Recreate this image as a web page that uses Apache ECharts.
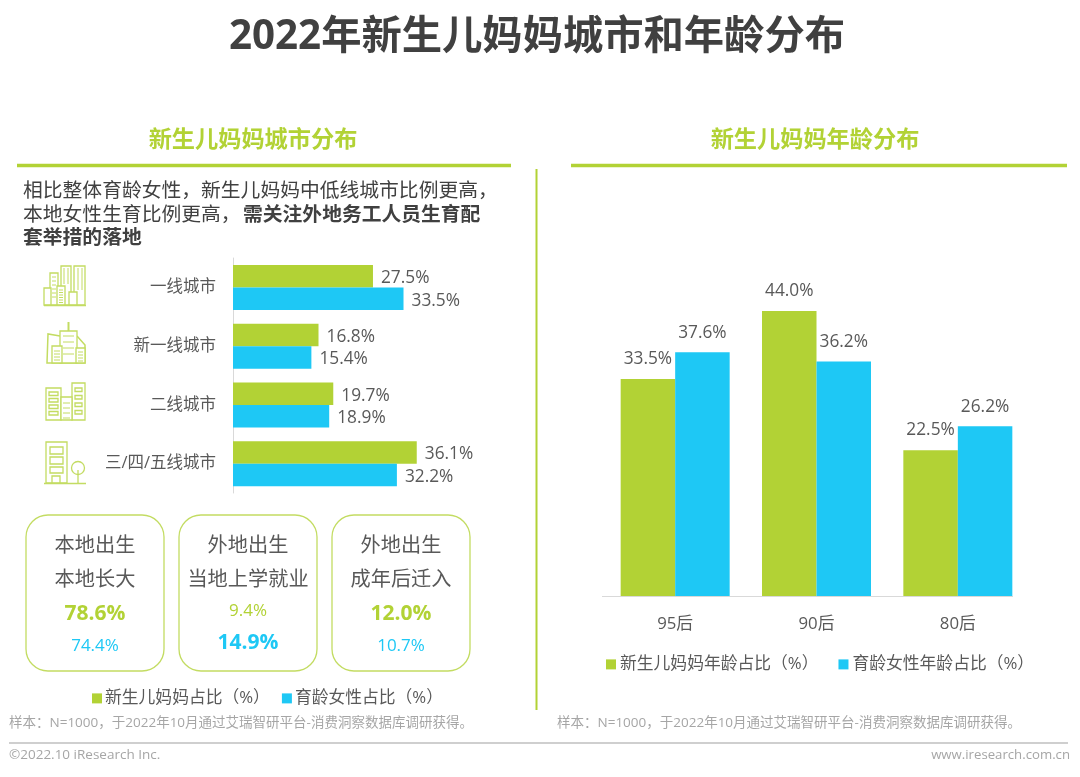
<!DOCTYPE html>
<html>
<head>
<meta charset="utf-8">
<style>html,body{margin:0;padding:0;background:#fff}#main{width:1080px;height:777px}</style>
<script src="https://cdn.jsdelivr.net/npm/echarts@6/dist/echarts.min.js"></script>
</head>
<body>
<div id="main"></div>
<script>
// 城市分布
var cityCats = ['一线城市', '新一线城市', '二线城市', '三/四/五线城市'];
var cityMom = [27.5, 16.8, 19.7, 36.1];
var cityWomen = [33.5, 15.4, 18.9, 32.2];
// 年龄分布
var ageCats = ['95后', '90后', '80后'];
var ageMom = [33.5, 44.0, 22.5];
var ageWomen = [37.6, 36.2, 26.2];
// 出生地卡片
var boxLine1 = ['本地出生', '外地出生', '外地出生'];
var boxLine2 = ['本地长大', '当地上学就业', '成年后迁入'];
var boxMom = [78.6, 9.4, 12.0];
var boxWomen = [74.4, 14.9, 10.7];

var GREEN = '#B2D235', BLUE = '#1EC8F5', ICON = '#C3DC62';
var FONT = '"Open Sans","Noto Sans CJK SC",sans-serif';
var SAMPLE = '样本：N=1000，于2022年10月通过艾瑞智研平台-消费洞察数据库调研获得。';

var g = [];
function text(x, y, s, size, color, align, weight) {
    g.push({
        type: 'text', x: x, y: y,
        style: {
            text: s, fontSize: size, fill: color, fontFamily: FONT,
            fontWeight: weight || 'normal', textAlign: align || 'left', textVerticalAlign: 'middle'
        }
    });
}
function line(x1, y1, x2, y2, color, w) {
    g.push({ type: 'line', shape: { x1: x1, y1: y1, x2: x2, y2: y2 }, style: { stroke: color, lineWidth: w } });
}
function box(x, y, w, h) {
    g.push({ type: 'rect', shape: { x: x, y: y, width: w, height: h }, style: { fill: '#fff', stroke: ICON, lineWidth: 1.3 } });
}

text(537, 38, '2022年新生儿妈妈城市和年龄分布', 40.3, '#404040', 'center', 'bold');
text(253, 140, '新生儿妈妈城市分布', 23.2, GREEN, 'center', 'bold');
text(815, 140, '新生儿妈妈年龄分布', 23.2, GREEN, 'center', 'bold');
line(17, 165.5, 511, 165.5, GREEN, 3.5);
line(571, 165.5, 1067, 165.5, GREEN, 3.5);
line(536.5, 169, 536.5, 710, GREEN, 2);

text(23, 191, '相比整体育龄女性，新生儿妈妈中低线城市比例更高，', 19.8, '#404040');
text(23, 215, '本地女性生育比例更高，', 19.8, '#404040');
text(243, 215, '需关注外地务工人员生育配', 19.8, '#404040', 'left', 'bold');
text(23, 238, '套举措的落地', 19.8, '#404040', 'left', 'bold');

// 图标
box(61, 266, 10, 39); box(74, 266, 11, 39); box(50, 273, 8, 32);
box(44, 288, 7, 17); box(57, 286, 8, 19); box(69, 292, 8, 13);
for (var j = 0; j < 6; j++) {
    line(52, 277 + j * 4, 56, 277 + j * 4, ICON, 1);
    line(59, 290 + j * 2.5, 63, 290 + j * 2.5, ICON, 1);
}
line(64, 268, 64, 284, ICON, 1); line(68, 268, 68, 284, ICON, 1);
line(78, 268, 78, 290, ICON, 1); line(82, 268, 82, 290, ICON, 1);
line(44, 305.5, 86, 305.5, ICON, 1.5);

g.push({
    type: 'polyline',
    shape: { points: [[60, 336], [48, 334], [47, 363], [85, 363], [85, 345], [77, 336]] },
    style: { fill: 'none', stroke: ICON, lineWidth: 1.5 }
});
box(60, 331, 17, 32); box(52, 346, 10, 17); box(76, 348, 9, 15);
line(68.5, 322, 68.5, 331, ICON, 2);
for (var k = 0; k < 4; k++) {
    line(63, 336 + k * 6, 74, 336 + k * 6, ICON, 1);
    line(54, 351 + k * 3, 60, 351 + k * 3, ICON, 1);
    line(78, 352 + k * 3, 83, 352 + k * 3, ICON, 1);
}

box(46, 388, 15, 32); box(72, 383, 13, 37); box(61, 397, 11, 23);
for (var i = 0; i < 4; i++) {
    box(49, 392 + i * 6.5, 9, 3.5);
    box(75, 388 + i * 7.5, 7, 3.5);
    line(63, 403 + i * 5, 70, 403 + i * 5, ICON, 1);
}

box(46, 442, 21, 41); box(50, 447, 13, 7); box(50, 457, 13, 7); box(50, 467, 13, 6);
box(52, 476, 8, 7);
g.push({ type: 'circle', shape: { cx: 78, cy: 468, r: 6.5 }, style: { fill: 'none', stroke: ICON, lineWidth: 1.3 } });
line(78, 470, 78, 483, ICON, 1.3);
line(44, 483.5, 86, 483.5, ICON, 1.5);

// 卡片
var boxX = [26, 179, 332];
for (var b = 0; b < 3; b++) {
    g.push({
        type: 'rect', shape: { x: boxX[b], y: 515, width: 138, height: 156, r: 22 },
        style: { fill: 'none', stroke: '#C3DC62', lineWidth: 1.3 }
    });
    var cx = boxX[b] + 69;
    var momWins = boxMom[b] > boxWomen[b];
    text(cx, 546, boxLine1[b], 20.2, '#595959', 'center');
    text(cx, 580, boxLine2[b], 20.2, '#595959', 'center');
    text(cx, momWins ? 614 : 611, boxMom[b].toFixed(1) + '%', momWins ? 21 : 17, GREEN, 'center', momWins ? 'bold' : 'normal');
    text(cx, momWins ? 646 : 643, boxWomen[b].toFixed(1) + '%', momWins ? 17 : 21, BLUE, 'center', momWins ? 'normal' : 'bold');
}

line(602, 596.5, 1013, 596.5, '#D9D9D9', 1);
text(9, 723, SAMPLE, 13.5, '#A6A6A6');
text(557, 723, SAMPLE, 13.5, '#A6A6A6');
line(9, 743, 1068, 743, '#BFBFBF', 1.5);
text(9, 755, '©2022.10 iResearch Inc.', 13.5, '#A6A6A6');
text(1070, 755, 'www.iresearch.com.cn', 13.2, '#A6A6A6', 'right');

function barLabel(size) {
    return {
        show: true, fontSize: size, color: '#595959', fontFamily: FONT,
        formatter: function (p) { return p.value.toFixed(1) + '%'; }
    };
}

var chart = echarts.init(document.getElementById('main'), null, { renderer: 'canvas' });
chart.setOption({
    animation: false,
    backgroundColor: '#fff',
    textStyle: { fontFamily: FONT },
    legend: [{
        left: 87, top: 685, itemWidth: 10, itemHeight: 10, itemGap: 12, icon: 'rect',
        textStyle: { fontSize: 16.8, color: '#595959', fontFamily: FONT, padding: [0, 0, 0, -2] },
        data: ['新生儿妈妈占比（%）', '育龄女性占比（%）']
    }, {
        left: 601, top: 651, itemWidth: 10, itemHeight: 10, itemGap: 20, icon: 'rect',
        textStyle: { fontSize: 16.8, color: '#595959', fontFamily: FONT, padding: [0, 0, 0, -1] },
        data: ['新生儿妈妈年龄占比（%）', '育龄女性年龄占比（%）']
    }],
    grid: [
        { left: 233, top: 258, width: 203.6, height: 235 },
        { left: 604.5, top: 272, width: 424, height: 324 }
    ],
    xAxis: [
        { gridIndex: 0, type: 'value', min: 0, max: 40, show: false },
        {
            gridIndex: 1, type: 'category', data: ageCats,
            axisLine: { show: false }, axisTick: { show: false },
            axisLabel: { fontSize: 16.8, color: '#595959', margin: 20, fontFamily: FONT }
        }
    ],
    yAxis: [
        {
            gridIndex: 0, type: 'category', inverse: true, data: cityCats,
            axisLine: { lineStyle: { color: '#D9D9D9' } }, axisTick: { show: false },
            axisLabel: { fontSize: 16.5, color: '#595959', margin: 17, fontFamily: FONT, padding: [3, 0, 0, 0] }
        },
        { gridIndex: 1, type: 'value', min: 0, max: 50, show: false }
    ],
    series: [
        {
            name: '新生儿妈妈占比（%）', type: 'bar', xAxisIndex: 0, yAxisIndex: 0, data: cityMom,
            barWidth: 22.5, barGap: 0, itemStyle: { color: GREEN },
            label: Object.assign(barLabel(17.3), { position: 'right', distance: 8, offset: [0, 2] })
        },
        {
            name: '育龄女性占比（%）', type: 'bar', xAxisIndex: 0, yAxisIndex: 0, data: cityWomen,
            barWidth: 22.5, barGap: 0, itemStyle: { color: BLUE },
            label: Object.assign(barLabel(17.3), { position: 'right', distance: 8, offset: [0, 2] })
        },
        {
            name: '新生儿妈妈年龄占比（%）', type: 'bar', xAxisIndex: 1, yAxisIndex: 1, data: ageMom,
            barWidth: 54.5, barGap: 0, itemStyle: { color: GREEN },
            label: Object.assign(barLabel(17.3), { position: 'top', distance: 11 })
        },
        {
            name: '育龄女性年龄占比（%）', type: 'bar', xAxisIndex: 1, yAxisIndex: 1, data: ageWomen,
            barWidth: 54.5, barGap: 0, itemStyle: { color: BLUE },
            label: Object.assign(barLabel(17.3), { position: 'top', distance: 11 })
        }
    ],
    graphic: { elements: g }
});
</script>
</body>
</html>
